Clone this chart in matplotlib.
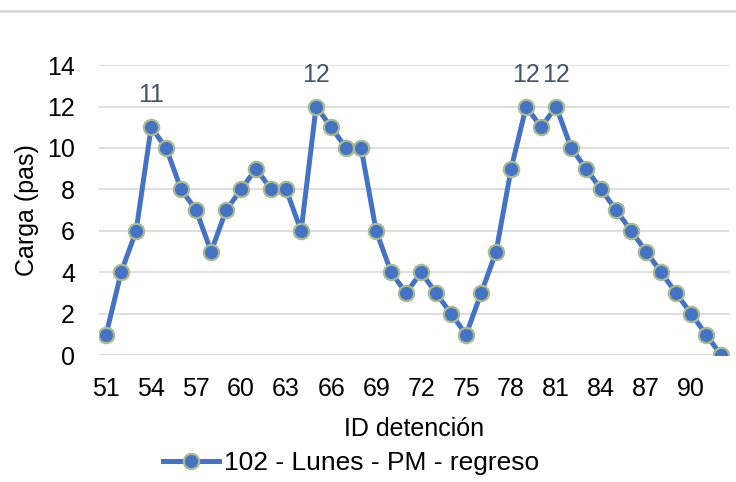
import matplotlib
matplotlib.use("Agg")
import matplotlib.pyplot as plt
from matplotlib.lines import Line2D

# chart data
ids = list(range(51, 93))
carga = [1, 4, 6, 11, 10, 8, 7, 5, 7, 8, 9, 8, 8, 6, 12, 11, 10, 10, 6, 4,
         3, 4, 3, 2, 1, 3, 5, 9, 12, 11, 12, 10, 9, 8, 7, 6, 5, 4, 3, 2, 1, 0]
labelled_ids = [54, 65, 79, 81]
series_name = "102 - Lunes - PM - regreso"

plt.rcParams['font.family'] = ['Liberation Sans', 'DejaVu Sans']
fs = 18

fig = plt.figure(figsize=(7.36, 4.82), dpi=100)
ax = fig.add_axes([0.134, 0.263, 0.856, 0.602])

pos = list(range(len(ids)))
ax.plot(pos, carga, color='#4472C4', lw=3.6, marker='o', ms=11,
        mfc='#4472C4', mec='#A9BA8C', mew=1.6, zorder=3, solid_joinstyle='round')

# data labels on the peaks
for i in labelled_ids:
    k = ids.index(i)
    ax.annotate(str(carga[k]), (pos[k], carga[k]), xytext=(0, 32),
                textcoords='offset pixels', ha='center', va='center',
                fontsize=fs, color='#44546A')

ax.set_xlim(-0.5, len(ids) - 0.5)
ax.set_ylim(0, 14)
ax.set_yticks(range(0, 15, 2))
ax.set_xticks(pos[::3])
ax.set_xticklabels([str(i) for i in ids[::3]])
ax.tick_params(length=0, labelsize=fs, colors='black')
ax.tick_params(axis='y', pad=17)
ax.tick_params(axis='x', pad=16)
ax.yaxis.grid(True, color='#D9D9D9', lw=1.2)
ax.set_axisbelow(True)
for s in ax.spines.values():
    s.set_visible(False)

ax.set_xlabel("ID detención", fontsize=fs, labelpad=11)
ax.set_ylabel("Carga (pas)", fontsize=fs, labelpad=6)

handle = Line2D([], [], color='#4472C4', lw=3.6, marker='o', ms=11,
                mfc='#4472C4', mec='#A9BA8C', mew=1.6)
fig.legend([handle], [series_name], loc='center', bbox_to_anchor=(0.477, 0.039),
           frameon=False, fontsize=19, handlelength=2.1, handletextpad=0.2)

# thin gray line at the top of the picture
fig.add_artist(Line2D([0, 1], [0.977, 0.977], color='#D9D9D9', lw=2,
                      transform=fig.transFigure))

fig.savefig("out.png", dpi=100)
